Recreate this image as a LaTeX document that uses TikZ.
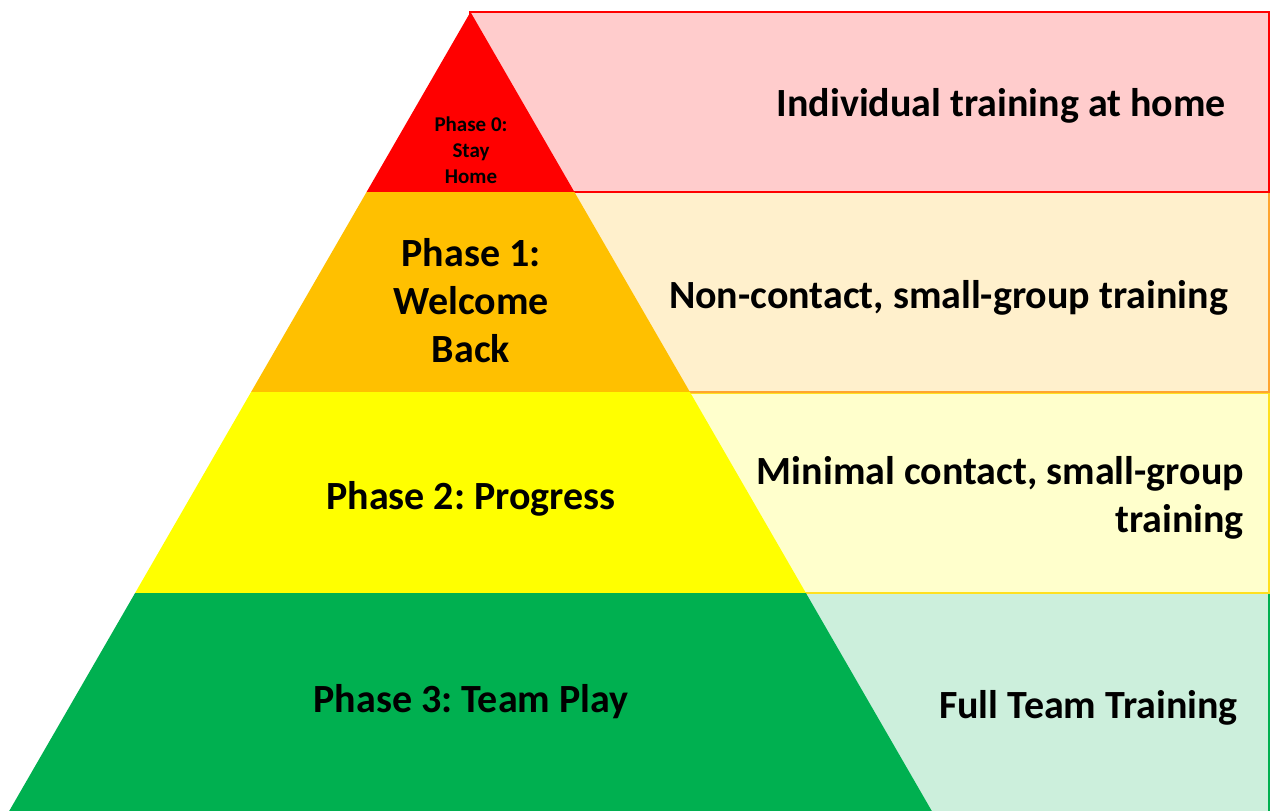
\documentclass[tikz,border=0pt]{standalone}
\usepackage{fontspec}
\setmainfont{Carlito}
\frenchspacing
\definecolor{ph0}{HTML}{FF0000}
\definecolor{ph0l}{HTML}{FFCCCC}
\definecolor{ph1}{HTML}{FFC000}
\definecolor{ph1l}{HTML}{FFF0CC}
\definecolor{ph1d}{HTML}{FFA530}
\definecolor{ph2}{HTML}{FFFF00}
\definecolor{ph2l}{HTML}{FFFFCC}
\definecolor{ph2d}{HTML}{FFE020}
\definecolor{ph3}{HTML}{00B050}
\definecolor{ph3l}{HTML}{CCEFDC}
\tikzset{
  band/.style={line width=2pt},
  lbl/.style={font=\fontsize{40}{48}\selectfont\bfseries, text=black, inner sep=0pt, align=center},
  desc/.style={font=\fontsize{40}{48}\selectfont\bfseries, text=black, inner sep=0pt, align=right, anchor=east},
}
\begin{document}
\begin{tikzpicture}[x=1pt,y=-1pt]
\clip (0,0) rectangle (1270,811);
\fill[white] (0,0) rectangle (1270,811);
% description bars behind the pyramid
\filldraw[band, fill=ph3l, draw=ph3] (470,593) rectangle (1269,830);
\filldraw[band, fill=ph2l, draw=ph2d] (470,393) rectangle (1269,593);
\filldraw[band, fill=ph1l, draw=ph1d] (470,192) rectangle (1269,392);
\filldraw[band, fill=ph0l, draw=ph0] (470,12) rectangle (1269,192);
% pyramid layers
\fill[ph0] (470.5,12) -- (574.4,192) -- (366.6,192) -- cycle;
\fill[ph1] (366.6,192) -- (574.4,192) -- (689.9,392) -- (251.1,392) -- cycle;
\fill[ph2] (251.1,392) -- (689.9,392) -- (805.9,593) -- (135.1,593) -- cycle;
\fill[ph3] (135.1,593) -- (805.9,593) -- (931.8,811) -- (9.2,811) -- cycle;
% layer titles
\node[lbl, font=\fontsize{21}{26}\selectfont\bfseries] (p0) at (471,150) {Phase 0:\\Stay\\Home};
\node[lbl] (p1) at (471,301) {Phase 1:\\Welcome\\Back};
\node[lbl] (p2) at (471,499) {Phase 2: Progress};
\node[lbl] (p3) at (471,702) {Phase 3: Team Play};
% descriptions
\node[desc] (d0) at (1226,106) {Individual training at home};
\node[desc] (d1) at (1228,298) {Non-contact, small-group training};
\node[desc] (d2) at (1244,498) {Minimal contact, small-group\\training};
\node[desc] (d3) at (1238,708) {Full Team Training};
\end{tikzpicture}
\end{document}
